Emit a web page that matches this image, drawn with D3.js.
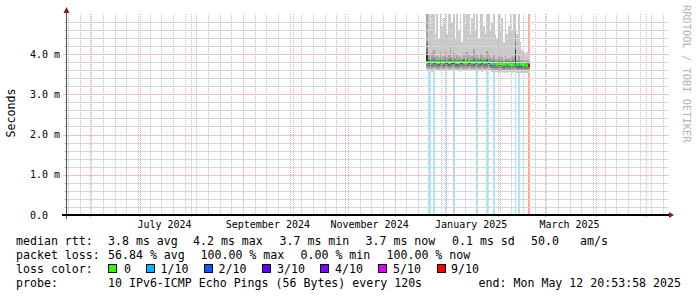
<!DOCTYPE html>
<html><head><meta charset="utf-8">
<script src="https://cdn.jsdelivr.net/npm/d3@7"></script>
<style>
html,body{margin:0;padding:0;background:#fff;}
svg{display:block;}
text{font-family:"DejaVu Sans Mono",monospace;}
</style></head><body>
<svg id="chart" width="697" height="297"></svg>
<script>
// ---------------- DATA ----------------
const graphStart = "2024-05-17T20:53:58Z";
const graphEnd   = "2025-05-12T20:53:58Z";
const dataStartDay = "2024-12-20";          // first day with measurements (one value per day)

// median rtt per day (ms)
const median = [3.79,3.80,3.78,3.79,3.81,3.80,3.79,3.78,3.80,3.79,3.79,3.81,3.80,3.78,3.79,3.80,3.81,3.79,3.78,3.79,3.80,3.80,3.79,3.78,3.79,3.81,3.80,3.79,3.78,3.80,3.79,3.79,3.78,3.80,3.79,3.78,3.79,3.80,3.79,
 3.76,3.75,3.76,3.75,3.76,3.76,3.75,3.74,3.75,3.76,3.75,3.74,3.75,3.75,
 4.13,
 3.74,3.73,3.74,3.73,3.74,3.73,3.72,3.72];
// lost pings (out of 10) per day
const lossCount = [0,1,0,0,1,0,0,0,0,0,0,1,0,0,0,0,1,0,0,0,0,0,0,0,0,0,0,0,0,0,1,0,0,0,0,0,1,0,0,
 0,1,0,0,0,0,0,0,0,0,0,0,0,0,
 1,
 0,1,0,0,0,0,0,9];
// sorted ping rtts per day (ms): ping1 = fastest ... ping10 = slowest
const ping1 = [3.58,3.57,3.59,3.56,3.58,3.60,3.57,3.58,3.59,3.57,3.58,3.56,3.59,3.58,3.57,3.60,3.58,3.57,3.59,3.58,3.56,3.58,3.59,3.57,3.58,3.60,3.58,3.57,3.59,3.58,3.57,3.58,3.59,3.56,3.58,3.57,3.59,3.58,3.57,
 3.55,3.54,3.56,3.55,3.54,3.56,3.55,3.53,3.55,3.54,3.56,3.55,3.54,3.55,
 3.56,
 3.53,3.52,3.54,3.53,3.54,3.52,3.53,3.52];
const ping2 = [3.65,3.64,3.63,3.64,3.66,3.65,3.64,3.63,3.65,3.64,3.64,3.65,3.65,3.63,3.64,3.65,3.66,3.64,3.63,3.64,3.65,3.65,3.64,3.63,3.64,3.66,3.65,3.64,3.63,3.65,3.64,3.64,3.63,3.65,3.64,3.63,3.64,3.65,3.64,
 3.61,3.60,3.61,3.60,3.61,3.61,3.60,3.59,3.60,3.61,3.60,3.59,3.60,3.60,
 3.63,
 3.59,3.58,3.59,3.58,3.59,3.58,3.57,3.57];
const ping3 = [3.70,3.69,3.68,3.69,3.71,3.70,3.69,3.68,3.70,3.69,3.69,3.70,3.70,3.68,3.69,3.70,3.71,3.69,3.68,3.69,3.70,3.70,3.69,3.68,3.69,3.71,3.70,3.69,3.68,3.70,3.69,3.69,3.68,3.70,3.69,3.68,3.69,3.70,3.69,
 3.66,3.65,3.66,3.65,3.66,3.66,3.65,3.64,3.65,3.66,3.65,3.64,3.65,3.65,
 3.68,
 3.64,3.63,3.64,3.63,3.64,3.63,3.62,3.62];
const ping4 = [3.75,3.74,3.73,3.74,3.76,3.75,3.74,3.73,3.75,3.74,3.74,3.75,3.75,3.73,3.74,3.75,3.76,3.74,3.73,3.74,3.75,3.75,3.74,3.73,3.74,3.76,3.75,3.74,3.73,3.75,3.74,3.74,3.73,3.75,3.74,3.73,3.74,3.75,3.74,
 3.71,3.70,3.71,3.70,3.71,3.71,3.70,3.69,3.70,3.71,3.70,3.69,3.70,3.70,
 3.73,
 3.69,3.68,3.69,3.68,3.69,3.68,3.67,3.67];
const ping5 = [3.78,3.79,3.77,3.78,3.80,3.79,3.78,3.77,3.79,3.78,3.78,3.80,3.79,3.77,3.78,3.79,3.80,3.78,3.77,3.78,3.79,3.79,3.78,3.77,3.78,3.80,3.79,3.78,3.77,3.79,3.78,3.78,3.77,3.79,3.78,3.77,3.78,3.79,3.78,
 3.75,3.74,3.75,3.74,3.75,3.75,3.74,3.73,3.74,3.75,3.74,3.73,3.74,3.74,
 3.76,
 3.73,3.72,3.73,3.72,3.73,3.72,3.71,3.71];
const ping6 = [4.00,3.81,3.79,3.80,3.82,3.81,3.80,3.79,3.81,3.80,3.80,3.82,3.81,3.79,3.80,3.81,3.82,3.80,3.79,3.80,3.81,3.81,3.80,3.79,3.80,3.82,3.81,3.80,3.79,3.81,3.80,3.80,3.79,3.81,3.80,3.79,3.80,3.81,3.80,
 3.77,3.76,3.77,3.76,3.77,3.77,3.76,3.75,3.76,3.77,3.76,3.75,3.76,3.76,
 4.15,
 3.75,3.74,3.75,3.74,3.75,3.74,3.73,3.73];
const ping7 = [4.05,3.83,3.82,3.83,3.84,3.82,3.83,3.81,3.84,3.82,3.83,3.84,3.83,3.82,3.85,3.83,3.84,3.82,3.82,3.83,3.83,3.82,3.84,3.82,3.83,3.84,3.83,3.82,3.84,3.83,3.83,3.82,3.84,3.83,3.82,3.82,3.84,3.83,3.82,
 3.79,3.79,3.79,3.78,3.80,3.79,3.79,3.77,3.79,3.79,3.78,3.77,3.79,3.78,
 4.20,
 3.77,3.77,3.77,3.76,3.77,3.76,3.75,3.75];
const ping8 = [4.30,3.87,3.85,3.87,3.89,3.85,3.86,3.85,3.88,3.85,3.86,3.89,3.85,3.87,3.90,3.85,3.87,3.85,3.86,3.85,3.86,3.84,3.87,3.85,3.88,3.86,3.85,3.86,3.89,3.85,3.87,3.85,3.87,3.86,3.85,3.85,3.88,3.87,3.85,
 3.82,3.85,3.81,3.81,3.84,3.82,3.83,3.80,3.85,3.82,3.82,3.81,3.84,3.83,
 4.30,
 3.80,3.83,3.79,3.79,3.79,3.78,3.79,3.78];
const ping9 = [6.00,3.98,3.93,4.02,4.10,3.92,3.95,3.92,4.05,3.93,3.95,4.08,3.92,3.98,4.20,3.93,4.02,3.91,3.97,3.93,3.95,3.90,4.02,3.93,4.05,3.98,3.92,3.95,4.12,3.93,4.00,3.91,4.02,3.98,3.93,3.91,4.08,4.00,3.93,
 3.90,4.00,3.88,3.87,3.95,3.88,3.92,3.86,4.00,3.88,3.90,3.87,3.95,3.92,
 4.60,
 3.86,3.95,3.85,3.84,3.83,3.83,3.84,3.82];
const ping10 = [6.0,6.0,4.6,6.0,6.0,4.5,5.2,4.4,6.0,4.7,4.9,6.0,4.5,5.5,6.0,4.8,6.0,4.4,6.0,4.6,5.1,4.3,6.0,4.7,6.0,6.0,4.5,4.9,6.0,4.6,6.0,4.4,6.0,6.0,4.7,4.5,6.0,6.0,4.6,
 4.8,6.0,4.5,4.4,6.0,4.6,4.9,4.3,6.0,4.5,4.7,6.0,4.6,6.0,
 6.0,
 4.5,6.0,4.3,4.1,4.05,4.0,4.05,4.02];

// axis ticks / labels
const yTickValues = [0, 1, 2, 3, 4];
const yTickLabels = ["0.0", "1.0 m", "2.0 m", "3.0 m", "4.0 m"];
const yMinorStep = 0.2;
const xLabelMonths = ["2024-07-01", "2024-09-01", "2024-11-01", "2025-01-01", "2025-03-01"];
const xLabelTexts = ["July 2024", "September 2024", "November 2024", "January 2025", "March 2025"];
const yAxisTitle = "Seconds";
const watermark = "RRDTOOL / TOBI OETIKER";

// legend
const rttLegend = ["median rtt:", "3.8 ms avg", "4.2 ms max", "3.7 ms min", "3.7 ms now", "0.1 ms sd", "50.0", "am/s"];
const lossLegend = ["packet loss:", "56.84 % avg", "100.00 % max", "0.00 % min", "100.00 % now"];
const lossColorTitle = "loss color:";
const lossLevels = [0, 1, 2, 3, 4, 5, 9];
const lossLabels = ["0", "1/10", "2/10", "3/10", "4/10", "5/10", "9/10"];
const lossColors = ["#26ff00", "#00b8ff", "#0059ff", "#5e00ff", "#7e00ff", "#dd00ff", "#ff0000"];
const probeLegend = ["probe:", "10 IPv6-ICMP Echo Pings (56 Bytes) every 120s", "end: Mon May 12 20:53:58 2025"];

// ---------------- LAYOUT / STYLE ----------------
const X0 = 66, X1 = 666, Y0 = 215, Y1 = 15, YMAX = 4.97;
const smokeColors = ["#cacaca", "#a4a4a4", "#7e7e7e", "#585858", "#323232"];
const gridMinor = "#c4c4c4";
const gridMajor = "#eaa8a8";
const gridMinorH = "#d8d8d8";
const gridMajorH = "#efc2c2";
const arrowColor = "#8b1a1a";
const rowY = [245, 259, 273, 287];
const rttX = [16, 108, 193, 279.5, 365.5, 452, 531, 580];
const lossX = [16, 108, 200.5, 300.5, 386.5];
const swatchX = [108, 145.5, 204, 262, 320, 378, 436.5];
const swatchLabelX = [124, 160.5, 218.5, 277, 335, 393, 451];

const svg = d3.select("#chart");
const x = d3.scaleUtc().domain([new Date(graphStart), new Date(graphEnd)]).range([X0, X1]);
const y = d3.scaleLinear().domain([0, YMAX]).range([Y0, Y1]);

svg.append("defs").append("clipPath").attr("id", "plot")
  .append("rect").attr("x", X0).attr("y", Y1 - 1).attr("width", X1 - X0).attr("height", Y0 - Y1 + 1);

const day0 = new Date(dataStartDay + "T00:00:00Z");
const days = median.map((_, i) => d3.utcDay.offset(day0, i));
const pings = [ping1, ping2, ping3, ping4, ping5, ping6, ping7, ping8, ping9, ping10];
const colorForLoss = l => lossColors[lossLevels.indexOf(lossLevels.find(v => l <= v))];

const data = svg.append("g").attr("clip-path", "url(#plot)").attr("shape-rendering", "crispEdges");

// loss background bars
data.selectAll("rect.lossbg").data(days.map((d, i) => ({d, l: lossCount[i]})).filter(o => o.l > 0))
  .join("rect").attr("class", "lossbg")
  .attr("x", o => x(o.d)).attr("width", o => x(d3.utcDay.offset(o.d, 1)) - x(o.d))
  .attr("y", Y1 - 1).attr("height", Y0 - Y1 + 1)
  .attr("fill", o => colorForLoss(o.l)).attr("fill-opacity", 0.35);

// smoke layers
for (let k = 0; k < 5; k++) {
  const lo = pings[k], hi = pings[9 - k];
  data.append("g").selectAll("rect").data(days).join("rect")
    .attr("x", d => x(d)).attr("width", d => x(d3.utcDay.offset(d, 1)) - x(d))
    .attr("y", (d, i) => y(hi[i])).attr("height", (d, i) => y(lo[i]) - y(hi[i]))
    .attr("fill", smokeColors[k]);
}

// median band coloured by loss
const sw = 0.035;
data.append("g").selectAll("rect").data(days).join("rect")
  .attr("x", d => x(d)).attr("width", d => x(d3.utcDay.offset(d, 1)) - x(d))
  .attr("y", (d, i) => y(median[i] + sw)).attr("height", (d, i) => y(median[i] - sw) - y(median[i] + sw))
  .attr("fill", (d, i) => colorForLoss(lossCount[i]));

// grid
const t0 = new Date(graphStart), t1 = new Date(graphEnd);
const weeks = d3.utcSunday.range(t0, t1);
const months = d3.utcMonth.range(t0, t1);
const minorY = d3.range(1, Math.round(YMAX / yMinorStep) + 1).map(k => k * yMinorStep)
  .filter(v => v < YMAX && Math.abs(v - Math.round(v)) > 1e-6);
const majorY = yTickValues.filter(v => v > 0);

function dotsV(xx, ya, yb) {
  const c = Math.round(xx); let s = "";
  for (let yy = ya; yy <= yb; yy += 2) s += `M${c},${yy}h1v1h-1Z`;
  return s;
}
const grid = svg.append("g").attr("shape-rendering", "crispEdges");
grid.selectAll("rect.hmin").data(minorY).join("rect").attr("class", "hmin")
  .attr("x", X0 - 2).attr("width", X1 - X0 + 5).attr("y", v => Math.round(y(v))).attr("height", 1)
  .attr("fill", gridMinorH);
grid.selectAll("rect.hmaj").data(majorY).join("rect").attr("class", "hmaj")
  .attr("x", X0 - 3).attr("width", X1 - X0 + 6).attr("y", v => Math.round(y(v))).attr("height", 1)
  .attr("fill", gridMajorH);
grid.append("path").attr("fill", gridMinor)
  .attr("d", weeks.map(d => dotsV(x(d), Y1 - 1, Y0 - 1)).join(""));
grid.append("path").attr("fill", gridMajor)
  .attr("d", months.map(d => dotsV(x(d), Y1 - 1, Y0 + 2)).join(""));

// axes
const ax = svg.append("g").attr("shape-rendering", "crispEdges");
ax.append("line").attr("x1", X0 + 0.5).attr("x2", X0 + 0.5).attr("y1", Y0 + 4).attr("y2", Y1 - 5)
  .attr("stroke", "#505050");
ax.append("line").attr("x1", X0 - 4).attr("x2", X1 + 4).attr("y1", Y0).attr("y2", Y0)
  .attr("stroke", "#000").attr("stroke-width", 2);
svg.append("path").attr("d", `M${X0 - 2.5},${Y1 - 2}L${X0 + 3.5},${Y1 - 2}L${X0 + 0.5},${Y1 - 8}Z`).attr("fill", arrowColor);
svg.append("path").attr("d", `M${X1 + 3},${Y0 - 3}L${X1 + 3},${Y0 + 3}L${X1 + 8},${Y0}Z`).attr("fill", arrowColor);

// y tick labels
svg.append("g").selectAll("text").data(yTickValues).join("text")
  .attr("x", 30).attr("y", d => y(d) + 3.6)
  .attr("font-size", "10px").attr("fill", "#000")
  .text((d, i) => yTickLabels[i]);

// x labels (centred at mid-month like rrdtool)
svg.append("g").selectAll("text").data(xLabelMonths).join("text")
  .attr("x", d => x(d3.utcDay.offset(new Date(d + "T00:00:00Z"), 15)))
  .attr("y", 228).attr("text-anchor", "middle")
  .attr("font-size", "10px").attr("fill", "#000")
  .text((d, i) => xLabelTexts[i]);

// y title
svg.append("text").attr("transform", "translate(15,113) rotate(-90)")
  .attr("text-anchor", "middle").attr("font-size", "11.6px").text(yAxisTitle);

// watermark
svg.append("text").attr("transform", "translate(683,5) rotate(90)")
  .attr("font-size", "10.4px").attr("fill", "#b4b4b4").text(watermark);

// legend
const leg = svg.append("g").attr("font-size", "11.6px").attr("fill", "#000");
leg.selectAll("text.r1").data(rttLegend).join("text").attr("class", "r1").attr("x", (d, i) => rttX[i]).attr("y", rowY[0])
  .attr("xml:space", "preserve").text(d => d);
leg.selectAll("text.r2").data(lossLegend).join("text").attr("class", "r2").attr("x", (d, i) => lossX[i]).attr("y", rowY[1])
  .attr("xml:space", "preserve").text(d => d);
leg.append("text").attr("x", 16).attr("y", rowY[2]).text(lossColorTitle);
leg.selectAll("rect.sw").data(lossColors).join("rect").attr("class", "sw")
  .attr("x", (d, i) => swatchX[i] + 0.5).attr("y", rowY[2] - 8.5).attr("width", 8).attr("height", 8)
  .attr("fill", d => d).attr("stroke", "#000").attr("stroke-width", 1).attr("shape-rendering", "crispEdges");
leg.selectAll("text.sl").data(lossLabels).join("text").attr("class", "sl")
  .attr("x", (d, i) => swatchLabelX[i]).attr("y", rowY[2]).text(d => d);
leg.append("text").attr("x", 16).attr("y", rowY[3]).text(probeLegend[0]);
leg.append("text").attr("x", 108).attr("y", rowY[3]).text(probeLegend[1]);
leg.append("text").attr("x", 681).attr("y", rowY[3]).attr("text-anchor", "end").text(probeLegend[2]);
</script>
</body></html>
